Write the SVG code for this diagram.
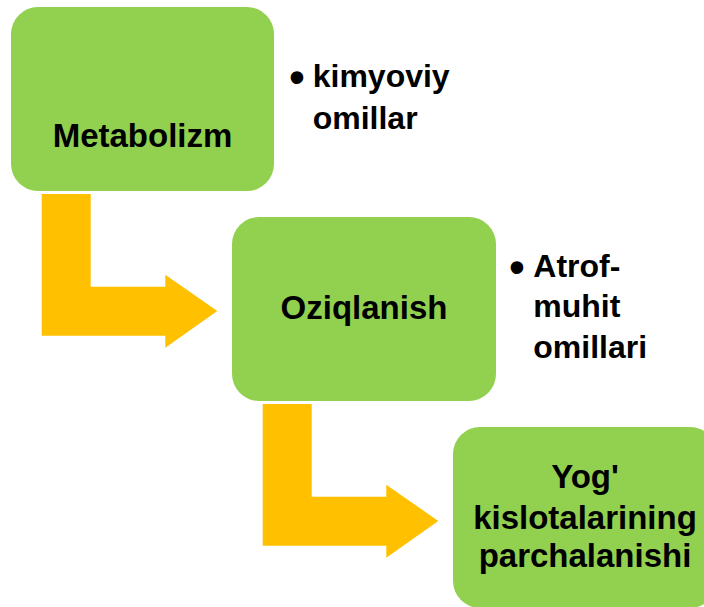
<svg xmlns="http://www.w3.org/2000/svg" width="704" height="607" viewBox="0 0 704 607">
<style>
.box{fill:#92D050}
.arr{fill:#FFC000}
text{font-family:"Liberation Sans",Arial,sans-serif;font-weight:bold;font-size:32px;fill:#000}
.c{text-anchor:middle}
.n{font-size:33px}
.b{font-size:44px;text-anchor:middle}
</style>
<rect width="704" height="607" fill="#fff"/>
<g id="connectors">
<path class="arr" d="M41.7,194 L90.7,194 L90.7,286.7 L165.3,286.7 L165.3,274.7 L217.3,311 L165.3,347.7 L165.3,335.7 L41.7,335.7 Z"/>
<path class="arr" transform="translate(221,210)" d="M41.7,194 L90.7,194 L90.7,286.7 L165.3,286.7 L165.3,274.7 L217.3,311 L165.3,347.7 L165.3,335.7 L41.7,335.7 Z"/>
</g>
<g id="metabolizm">
<rect class="box" x="11" y="7" width="263" height="184" rx="27"/>
<text class="c n" x="142.5" y="147">Metabolizm</text>
</g>
<g id="kimyoviy">
<text x="297" y="91.5" class="b">•</text>
<text x="312.7" y="86.7">kimyoviy</text>
<text x="312.7" y="129.3">omillar</text>
</g>
<g id="oziqlanish">
<rect class="box" x="232" y="217" width="264" height="184" rx="27"/>
<text class="c n" x="364" y="319">Oziqlanish</text>
</g>
<g id="atrof">
<text x="517" y="281.5" class="b">•</text>
<text x="533.3" y="276.7">Atrof-</text>
<text x="533.3" y="317">muhit</text>
<text x="533.3" y="358.3">omillari</text>
</g>
<g id="yog">
<rect class="box" x="453" y="427" width="264" height="181" rx="27"/>
<text class="c n" x="585" y="488.3">Yog'</text>
<text class="c n" x="585" y="528.5">kislotalarining</text>
<text class="c n" x="585" y="567">parchalanishi</text>
</g>
</svg>
